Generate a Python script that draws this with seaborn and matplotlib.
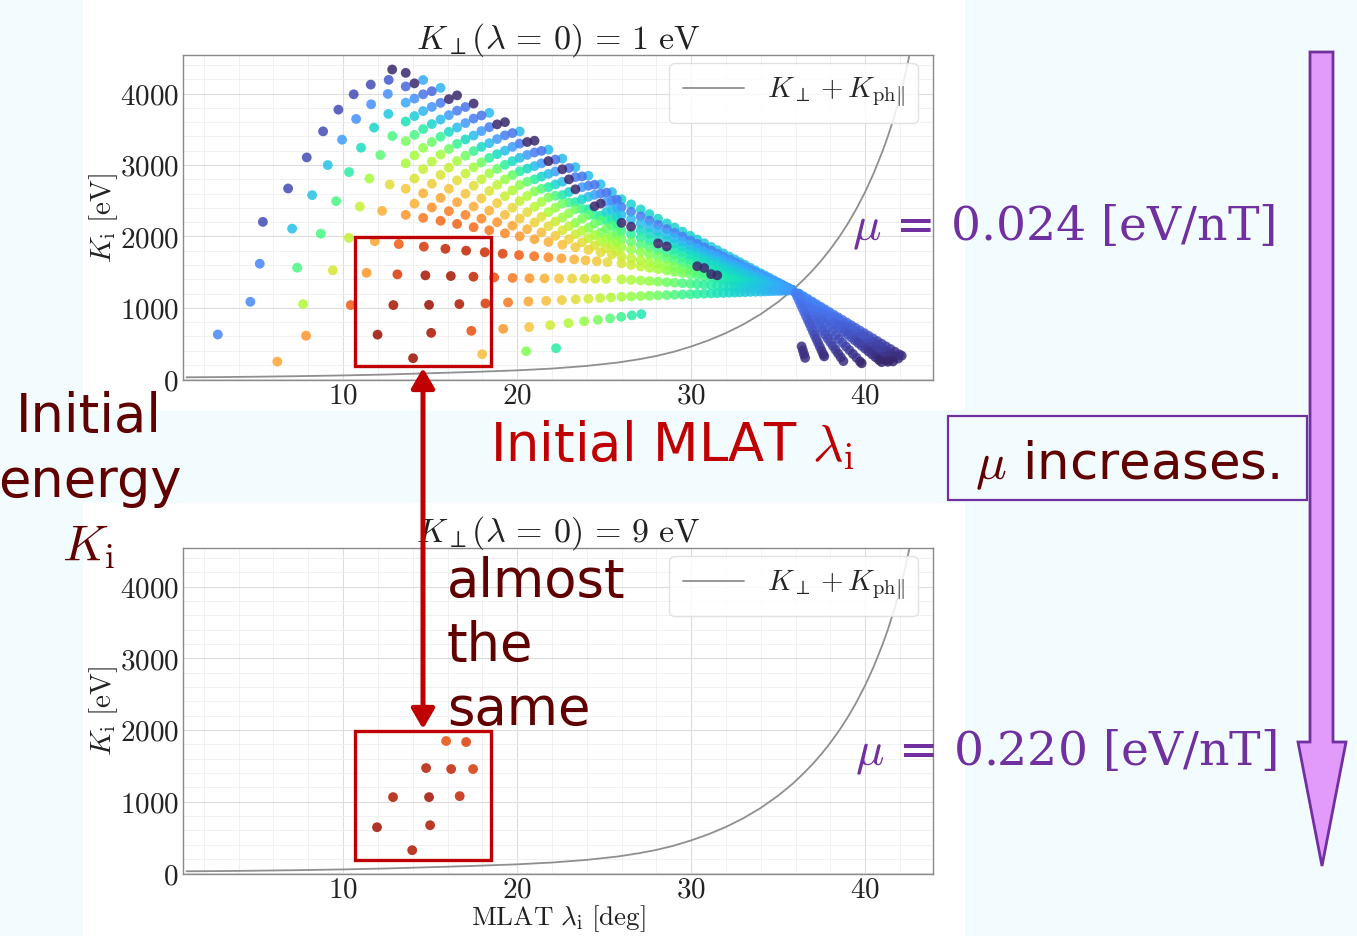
import matplotlib
matplotlib.use("Agg")
import matplotlib.pyplot as plt
import seaborn as sns
import pandas as pd
from matplotlib.patches import Rectangle, Polygon, FancyArrowPatch
from matplotlib.ticker import MultipleLocator, FuncFormatter

# ---------------------------------------------------------------------------
# Initial conditions (MLAT lambda_i [deg], energy K_i [eV], colour value)
# mu = 0.024 eV/nT run, organised row by row
# ---------------------------------------------------------------------------
mid_lam = [13.6, 14.6, 15.6, 16.55, 17.5, 18.4, 19.3, 20.15, 21.0, 21.8, 22.6, 23.35, 24.1, 24.8, 25.45]
mid_lam_b = [14.1, 15.1, 16.08, 17.03, 17.95, 18.85, 19.73, 20.58, 21.4, 22.2, 22.98, 23.73, 24.45, 25.13, 25.73]
fan_lam = [26.0, 26.55, 27.1, 27.6, 28.1, 28.6, 29.05, 29.5, 29.95, 30.35, 30.75, 31.15, 31.5, 31.85,
           32.2, 32.5, 32.8, 33.1, 33.4, 33.7, 34.0, 34.25, 34.5, 34.75, 35.0, 35.2, 35.4, 35.6, 35.8]

r0_lam = [6.22, 14.02, 17.99, 20.52, 22.24]
r0_k = [247, 295, 351, 393, 435]
r0_c = [0.70, 0.96, 0.66, 0.46, 0.36]

r1_lam = [2.80, 7.87, 11.98, 15.06, 17.37, 19.20, 20.69, 21.90, 22.95, 23.85, 24.64, 25.34, 25.98, 26.59, 27.14]
r1_k = [627, 610, 625, 650, 678, 706, 730, 758, 786, 812, 832, 852, 874, 895, 912]
r1_c = [0.17, 0.72, 0.96, 0.94, 0.82, 0.72, 0.65, 0.57, 0.52, 0.48, 0.45, 0.42, 0.39, 0.36, 0.34]

r2_lam = [4.67, 7.70, 10.44, 12.89, 14.94, 16.68, 18.18, 19.48, 20.65, 21.67, 22.57, 23.37, 24.10, 24.77, 25.40] + fan_lam
r2_k = [1085, 1053, 1039, 1039, 1042, 1053, 1062, 1076, 1089, 1099, 1109, 1119, 1128, 1137, 1146] + \
       [1155, 1160, 1165, 1170, 1174, 1179, 1183, 1187, 1191, 1195, 1198, 1202, 1205, 1208, 1212, 1214, 1217,
        1220, 1223, 1225, 1228, 1230, 1233, 1235, 1237, 1239, 1241, 1243, 1245]
r2_c = [0.17, 0.52, 0.80, 0.94, 0.96, 0.93, 0.86, 0.76, 0.70, 0.66, 0.63, 0.60, 0.57, 0.55, 0.52] + \
       [0.50, 0.48, 0.47, 0.45, 0.44, 0.42, 0.41, 0.39, 0.38, 0.37, 0.36, 0.34, 0.33, 0.32, 0.31, 0.30, 0.29,
        0.28, 0.27, 0.27, 0.26, 0.25, 0.24, 0.23, 0.23, 0.22, 0.21, 0.21, 0.20]

r3_lam = [5.21, 7.36, 9.41, 11.35, 13.12, 14.73, 16.19, 17.49, 18.68, 19.74, 20.71, 21.57, 22.41, 23.16,
          23.87, 24.50, 25.11] + fan_lam
r3_k = [1618, 1562, 1526, 1490, 1469, 1455, 1446, 1436, 1426, 1419, 1414, 1412, 1410, 1409, 1408, 1406, 1404] + \
       [1400, 1391, 1383, 1375, 1367, 1359, 1352, 1345, 1338, 1332, 1325, 1319, 1313, 1308, 1302, 1298, 1293,
        1288, 1284, 1279, 1274, 1270, 1266, 1262, 1258, 1255, 1252, 1249, 1246]
r3_c = [0.17, 0.40, 0.58, 0.72, 0.86, 0.94, 0.94, 0.90, 0.82, 0.76, 0.72, 0.68, 0.65, 0.62, 0.60, 0.58, 0.56] + \
       [0.53, 0.51, 0.49, 0.48, 0.46, 0.44, 0.43, 0.41, 0.40, 0.38, 0.37, 0.36, 0.35, 0.33, 0.32, 0.31, 0.30,
        0.29, 0.28, 0.27, 0.26, 0.25, 0.25, 0.24, 0.23, 0.22, 0.22, 0.21, 0.20]

r4_lam = [5.39, 7.07, 8.72, 10.33, 11.82, 13.2, 14.64, 15.88, 17.07, 18.14, 19.17, 20.11, 20.98, 21.80,
          22.55, 23.28, 23.93, 24.58, 25.19] + fan_lam
r4_k = [2204, 2109, 2039, 1980, 1933, 1893, 1857, 1827, 1801, 1779, 1758, 1739, 1723, 1708, 1693, 1678,
        1665, 1652, 1640] + \
       [1622, 1601, 1580, 1561, 1542, 1522, 1505, 1488, 1471, 1456, 1440, 1425, 1411, 1398, 1385, 1373, 1362,
        1350, 1339, 1327, 1316, 1306, 1297, 1287, 1278, 1270, 1262, 1255, 1247]
r4_c = [0.08, 0.26, 0.40, 0.55, 0.70, 0.80, 0.86, 0.90, 0.90, 0.88, 0.85, 0.80, 0.77, 0.74, 0.71, 0.68,
        0.66, 0.64, 0.61] + \
       [0.58, 0.56, 0.54, 0.52, 0.50, 0.48, 0.46, 0.45, 0.43, 0.41, 0.40, 0.38, 0.37, 0.35, 0.34, 0.33, 0.32,
        0.31, 0.29, 0.28, 0.27, 0.26, 0.25, 0.24, 0.23, 0.23, 0.22, 0.21, 0.20]

r5_lam = [6.84, 8.22, 9.60, 10.96, 12.24] + mid_lam + fan_lam
r5_k = [2671, 2578, 2494, 2418, 2358] + \
       [2302, 2260, 2219, 2175, 2129, 2086, 2043, 2002, 1961, 1922, 1884, 1848, 1812, 1778, 1747] + \
       [1720, 1693, 1667, 1643, 1619, 1595, 1573, 1551, 1530, 1510, 1491, 1472, 1455, 1438, 1421, 1407, 1392,
        1378, 1363, 1349, 1334, 1322, 1310, 1298, 1286, 1276, 1267, 1257, 1247]
r5_c = [0.08, 0.26, 0.40, 0.55, 0.68] + \
       [0.72, 0.76, 0.78, 0.79, 0.78, 0.76, 0.74, 0.72, 0.70, 0.68, 0.66, 0.64, 0.62, 0.60, 0.58] + \
       [0.56, 0.54, 0.52, 0.50, 0.48, 0.47, 0.45, 0.43, 0.42, 0.40, 0.39, 0.03, 0.03, 0.34, 0.33, 0.32, 0.31,
        0.30, 0.29, 0.28, 0.27, 0.26, 0.25, 0.24, 0.23, 0.22, 0.22, 0.21, 0.20]

r5b_k = [2459, 2406, 2354, 2301, 2249, 2199, 2150, 2102, 2056, 2009, 1962, 1917, 1873, 1834, 1801]
r5b_c = [0.68, 0.73, 0.75, 0.75, 0.74, 0.72, 0.70, 0.68, 0.66, 0.64, 0.62, 0.60, 0.58, 0.56, 0.54]

r6_lam = [7.91, 9.12, 10.34, 11.51, 12.68] + mid_lam + fan_lam
r6_k = [3106, 2999, 2901, 2811, 2727] + \
       [2668, 2604, 2540, 2479, 2419, 2361, 2303, 2249, 2195, 2144, 2085, 2030, 1975, 1925, 1885] + \
       [1850, 1816, 1782, 1752, 1721, 1690, 1663, 1635, 1607, 1583, 1558, 1534, 1512, 1491, 1469, 1451, 1432,
        1414, 1395, 1377, 1359, 1343, 1328, 1313, 1297, 1285, 1273, 1260, 1248]
r6_c = [0.08, 0.26, 0.36, 0.50, 0.60] + \
       [0.64, 0.68, 0.70, 0.70, 0.69, 0.68, 0.66, 0.64, 0.62, 0.60, 0.58, 0.56, 0.54, 0.52, 0.51] + \
       [0.50, 0.48, 0.47, 0.45, 0.44, 0.42, 0.41, 0.39, 0.38, 0.03, 0.03, 0.34, 0.33, 0.32, 0.31, 0.30, 0.29,
        0.28, 0.27, 0.27, 0.26, 0.25, 0.24, 0.23, 0.23, 0.22, 0.21, 0.21, 0.20]

r6b_k = [2810, 2737, 2667, 2598, 2532, 2467, 2403, 2339, 2274, 2209, 2143, 2079, 2019, 1968, 1927]
r6b_c = [0.58, 0.63, 0.65, 0.65, 0.64, 0.63, 0.61, 0.60, 0.58, 0.56, 0.54, 0.52, 0.50, 0.49, 0.48]

r7_lam = [8.85, 9.94, 11.03, 12.14] + mid_lam + fan_lam
r7_k = [3471, 3354, 3242, 3140] + \
       [3023, 2942, 2862, 2785, 2709, 2637, 2564, 2496, 2415, 2340, 2265, 2190, 2120, 2055, 2005] + \
       [1965, 1925, 1885, 1848, 1811, 1775, 1742, 1709, 1676, 1647, 1618, 1589, 1563, 1537, 1512, 1490, 1468,
        1446, 1424, 1402, 1380, 1362, 1344, 1325, 1307, 1293, 1278, 1263, 1249]
r7_c = [0.08, 0.20, 0.32, 0.42] + \
       [0.50, 0.55, 0.58, 0.60, 0.60, 0.58, 0.56, 0.55, 0.53, 0.51, 0.49, 0.47, 0.46, 0.45, 0.45] + \
       [0.44, 0.43, 0.41, 0.40, 0.39, 0.38, 0.37, 0.36, 0.34, 0.33, 0.32, 0.31, 0.31, 0.30, 0.29, 0.28, 0.27,
        0.27, 0.26, 0.25, 0.25, 0.24, 0.23, 0.23, 0.22, 0.22, 0.21, 0.21, 0.20]

r7b_k = [3135, 3048, 2963, 2880, 2800, 2721, 2645, 2566, 2483, 2403, 2324, 2248, 2176, 2109, 2050]
r7b_c = [0.50, 0.53, 0.55, 0.55, 0.55, 0.54, 0.52, 0.51, 0.50, 0.48, 0.47, 0.45, 0.44, 0.43, 0.42]

r8_lam = [9.73, 10.75, 11.78, 12.83] + mid_lam + fan_lam
r8_k = [3775, 3645, 3523, 3406] + \
       [3334, 3240, 3146, 3057, 2968, 2883, 2798, 2719, 2630, 2545, 2460, 2380, 2300, 2225, 2150] + \
       [2080, 2033, 1987, 1944, 1902, 1860, 1821, 1783, 1745, 1711, 1677, 1643, 1614, 1584, 1554, 1529, 1504,
        1478, 1453, 1427, 1402, 1381, 1359, 1338, 1317, 1300, 1283, 1266, 1249]
r8_c = [0.08, 0.18, 0.30, 0.40] + \
       [0.45, 0.48, 0.50, 0.50, 0.50, 0.49, 0.48, 0.47, 0.46, 0.45, 0.44, 0.43, 0.42, 0.41, 0.40] + \
       [0.39, 0.37, 0.36, 0.35, 0.03, 0.03, 0.33, 0.32, 0.31, 0.31, 0.30, 0.29, 0.29, 0.28, 0.27, 0.27, 0.26,
        0.26, 0.25, 0.25, 0.24, 0.24, 0.23, 0.23, 0.22, 0.22, 0.21, 0.21, 0.20]

r8b_k = [3422, 3322, 3224, 3130, 3037, 2946, 2859, 2766, 2667, 2569, 2475, 2385, 2299, 2228, 2167]
r8b_c = [0.40, 0.43, 0.44, 0.44, 0.44, 0.43, 0.43, 0.42, 0.41, 0.40, 0.39, 0.38, 0.37, 0.36, 0.35]

r9_lam = [10.61, 11.61, 12.6] + mid_lam + fan_lam
r9_k = [3990, 3850, 3715] + \
       [3609, 3503, 3396, 3296, 3195, 3099, 3003, 2913, 2800, 2690, 2580, 2480, 2380, 2290, 2245] + \
       [2190, 2137, 2084, 2037, 1989, 1941, 1897, 1854, 1811, 1773, 1734, 1696, 1662, 1629, 1595, 1566, 1538,
        1509, 1480, 1451, 1422, 1398, 1375, 1351, 1327, 1307, 1288, 1269, 1250]
r9_c = [0.08, 0.18, 0.27] + \
       [0.33, 0.36, 0.38, 0.38, 0.38, 0.37, 0.37, 0.36, 0.36, 0.35, 0.34, 0.34, 0.33, 0.32, 0.32] + \
       [0.03, 0.03, 0.30, 0.30, 0.29, 0.28, 0.28, 0.27, 0.27, 0.26, 0.26, 0.25, 0.25, 0.24, 0.24, 0.24, 0.23,
        0.23, 0.23, 0.22, 0.22, 0.22, 0.21, 0.21, 0.21, 0.21, 0.20, 0.20, 0.20]

r9b_k = [3685, 3573, 3464, 3358, 3254, 3152, 3054, 2950, 2838, 2728, 2622, 2519, 2422, 2343, 2278]
r9b_c = [0.28, 0.30, 0.31, 0.31, 0.31, 0.31, 0.31, 0.30, 0.30, 0.30, 0.29, 0.29, 0.03, 0.28, 0.28]

r10_lam = [11.59, 12.57] + mid_lam + fan_lam
r10_k = [4126, 3995] + \
        [3873, 3755, 3637, 3525, 3413, 3306, 3200, 3100, 2985, 2875, 2765, 2660, 2555, 2460, 2375] + \
        [2300, 2241, 2182, 2129, 2075, 2021, 1973, 1925, 1877, 1834, 1791, 1748, 1711, 1673, 1636, 1604, 1572,
         1540, 1507, 1475, 1443, 1416, 1390, 1363, 1336, 1315, 1293, 1272, 1250]
r10_c = [0.08, 0.18] + \
        [0.22, 0.24, 0.25, 0.25, 0.25, 0.25, 0.25, 0.25, 0.25, 0.25, 0.25, 0.03, 0.25, 0.03, 0.25] + \
        [0.25, 0.25, 0.25, 0.24, 0.24, 0.24, 0.24, 0.23, 0.23, 0.23, 0.23, 0.23, 0.22, 0.22, 0.22, 0.22, 0.22,
         0.21, 0.21, 0.21, 0.21, 0.21, 0.21, 0.20, 0.20, 0.20, 0.20, 0.20, 0.20]

r10b_k = [3930, 3813, 3698, 3587, 3475, 3363, 3254, 3141, 3023, 2909, 2799, 2689, 2582, 2484, 2397]
r10b_c = [0.18, 0.19, 0.20, 0.20, 0.20, 0.20, 0.20, 0.20, 0.20, 0.20, 0.03, 0.20, 0.20, 0.20, 0.20]

r11_lam = [12.62] + mid_lam + fan_lam
r11_k = [4192] + \
        [4100, 3990, 3870, 3760, 3650, 3530, 3415, 3300, 3175, 3055, 2940, 2830, 2710, 2600, 2500] + \
        [2410, 2345, 2280, 2221, 2162, 2102, 2049, 1996, 1943, 1896, 1848, 1801, 1759, 1718, 1677, 1641, 1606,
         1570, 1535, 1499, 1464, 1434, 1405, 1375, 1346, 1322, 1298, 1275, 1251]
r11_c = [0.10] + \
        [0.12, 0.14, 0.15, 0.15, 0.15, 0.15, 0.15, 0.15, 0.15, 0.03, 0.03, 0.15, 0.15, 0.15, 0.15] + \
        [0.15, 0.15, 0.15, 0.15, 0.15, 0.15, 0.16, 0.16, 0.16, 0.16, 0.16, 0.16, 0.17, 0.17, 0.17, 0.17, 0.17,
         0.18, 0.18, 0.18, 0.18, 0.18, 0.19, 0.19, 0.19, 0.19, 0.20, 0.20, 0.20]

r11b_k = [4143, 4033, 3922, 3812, 3693, 3569, 3447, 3322, 3197, 3076, 2958, 2840, 2723, 2613, 2513]
r11b_c = [0.03, 0.12, 0.03, 0.14, 0.14, 0.03, 0.14, 0.03, 0.14, 0.14, 0.14, 0.14, 0.14, 0.14, 0.14]

r12_lam = [12.82] + mid_lam + fan_lam
r12_k = [4337] + \
        [4290, 4190, 4080, 3975, 3860, 3730, 3600, 3470, 3340, 3215, 3090, 2970, 2850, 2730, 2620] + \
        [2520, 2449, 2378, 2313, 2248, 2183, 2125, 2067, 2009, 1957, 1905, 1853, 1808, 1763, 1718, 1679, 1640,
         1601, 1562, 1523, 1484, 1452, 1420, 1387, 1355, 1329, 1303, 1277, 1252]
r12_c = [0.03] + \
        [0.03, 0.22, 0.24, 0.03, 0.03, 0.25, 0.03, 0.25, 0.03, 0.25, 0.25, 0.25, 0.25, 0.25, 0.25] + \
        [0.30, 0.30, 0.30, 0.30, 0.30, 0.29, 0.29, 0.29, 0.29, 0.28, 0.28, 0.28, 0.27, 0.27, 0.27, 0.26, 0.26,
         0.26, 0.25, 0.25, 0.25, 0.24, 0.24, 0.24, 0.23, 0.23, 0.22, 0.22, 0.22]

# branches beyond the crossing point at high latitude
f1_lam = [36.35, 36.42, 36.49, 36.55]
f1_k = [460, 405, 350, 300]
f1_c = [0.04, 0.04, 0.04, 0.04]

f2_lam = [36.0, 36.1, 36.2, 36.3, 36.4, 36.5, 36.6, 36.7, 36.8, 36.9, 37.0, 37.1, 37.2, 37.3, 37.4, 37.5,
          37.6, 37.65]
f2_k = [1210, 1156, 1102, 1048, 994, 940, 887, 833, 779, 725, 671, 617, 563, 509, 455, 401, 347, 320]
f2_c = [0.16, 0.15, 0.15, 0.14, 0.13, 0.13, 0.12, 0.11, 0.10, 0.10, 0.09, 0.08, 0.07, 0.07, 0.06, 0.05,
        0.04, 0.04]

f3_lam = [36.05, 36.2, 36.35, 36.5, 36.65, 36.8, 36.95, 37.1, 37.25, 37.4, 37.55, 37.7, 37.85, 38.0, 38.15,
          38.3, 38.45, 38.6, 38.75]
f3_k = [1200, 1148, 1095, 1043, 990, 938, 885, 833, 780, 728, 675, 623, 570, 518, 465, 413, 360, 308, 255]
f3_c = [0.17, 0.16, 0.16, 0.15, 0.14, 0.14, 0.13, 0.12, 0.11, 0.11, 0.10, 0.09, 0.08, 0.08, 0.07, 0.06,
        0.05, 0.05, 0.04]

f4_lam = [36.1, 36.3, 36.5, 36.7, 36.9, 37.1, 37.3, 37.5, 37.7, 37.9, 38.1, 38.3, 38.5, 38.7, 38.9, 39.1,
          39.3, 39.5, 39.7, 39.8]
f4_k = [1190, 1138, 1086, 1033, 981, 929, 877, 825, 772, 720, 668, 616, 564, 511, 459, 407, 355, 303, 250, 224]
f4_c = [0.17, 0.16, 0.16, 0.15, 0.14, 0.14, 0.13, 0.12, 0.11, 0.11, 0.10, 0.09, 0.08, 0.08, 0.07, 0.06,
        0.05, 0.05, 0.04, 0.03]

f5_lam = [36.2, 36.4, 36.6, 36.8, 37.0, 37.2, 37.4, 37.6, 37.8, 38.0, 38.2, 38.4, 38.6, 38.8, 39.0, 39.2,
          39.4, 39.6, 39.8, 40.0, 40.2, 40.4, 40.6, 40.8, 40.95]
f5_k = [1180, 1140, 1101, 1061, 1022, 982, 942, 903, 863, 824, 784, 744, 705, 665, 626, 586, 546, 507, 467,
        428, 388, 348, 309, 269, 240]
f5_c = [0.18, 0.17, 0.17, 0.16, 0.16, 0.15, 0.14, 0.14, 0.13, 0.13, 0.12, 0.11, 0.11, 0.10, 0.09, 0.09,
        0.08, 0.07, 0.07, 0.06, 0.05, 0.05, 0.04, 0.03, 0.03]

f6_lam = [36.2, 36.45, 36.7, 36.95, 37.2, 37.45, 37.7, 37.95, 38.2, 38.45, 38.7, 38.95, 39.2, 39.45, 39.7,
          39.95, 40.2, 40.45, 40.7, 40.95, 41.2, 41.45, 41.7, 41.95, 42.1]
f6_k = [1200, 1163, 1126, 1089, 1052, 1015, 978, 941, 904, 867, 830, 794, 757, 720, 683, 646, 609, 572, 535,
        498, 461, 424, 387, 350, 330]
f6_c = [0.20, 0.19, 0.19, 0.18, 0.17, 0.17, 0.16, 0.15, 0.15, 0.14, 0.13, 0.13, 0.12, 0.11, 0.11, 0.10,
        0.09, 0.09, 0.08, 0.07, 0.07, 0.06, 0.05, 0.05, 0.04]

f7_lam = [36.2, 36.45, 36.7, 36.95, 37.2, 37.45, 37.7, 37.95, 38.2, 38.45, 38.7, 38.95, 39.2, 39.45, 39.7,
          39.95, 40.2, 40.45, 40.7, 40.95, 41.2, 41.45, 41.6]
f7_k = [1190, 1147, 1103, 1060, 1016, 973, 929, 886, 842, 799, 755, 712, 668, 625, 581, 538, 494, 451, 407,
        364, 320, 277, 250]
f7_c = [0.19, 0.18, 0.18, 0.17, 0.16, 0.16, 0.15, 0.14, 0.14, 0.13, 0.12, 0.11, 0.11, 0.10, 0.09, 0.09,
        0.08, 0.07, 0.06, 0.06, 0.05, 0.04, 0.03]

f8_lam = [36.2, 36.45, 36.7, 36.95, 37.2, 37.45, 37.7, 37.95, 38.2, 38.45, 38.7, 38.95, 39.2, 39.45, 39.7,
          39.95, 40.2, 40.45, 40.7, 40.95, 41.2, 41.45, 41.7, 41.9]
f8_k = [1195, 1155, 1116, 1076, 1036, 996, 957, 917, 877, 838, 798, 758, 719, 679, 639, 600, 560, 520, 480,
        441, 401, 361, 322, 290]
f8_c = [0.19, 0.19, 0.18, 0.17, 0.17, 0.16, 0.15, 0.15, 0.14, 0.13, 0.13, 0.12, 0.11, 0.11, 0.10, 0.09,
        0.09, 0.08, 0.07, 0.07, 0.06, 0.05, 0.04, 0.04]

f9_lam = [36.2, 36.45, 36.7, 36.95, 37.2, 37.45, 37.7, 37.95, 38.2, 38.45, 38.7, 38.95, 39.2, 39.45, 39.7,
          39.95, 40.2, 40.45, 40.7, 40.95, 41.2, 41.3]
f9_k = [1185, 1139, 1093, 1047, 1001, 955, 909, 863, 817, 771, 725, 679, 633, 587, 541, 495, 449, 403, 357,
        311, 265, 245]
f9_c = [0.18, 0.18, 0.17, 0.16, 0.16, 0.15, 0.14, 0.14, 0.13, 0.12, 0.11, 0.11, 0.10, 0.09, 0.09, 0.08,
        0.07, 0.06, 0.06, 0.05, 0.04, 0.03]

# mu = 0.220 eV/nT run
low_lam = [13.97, 11.95, 15.00, 12.87, 14.94, 16.70, 14.77, 16.21, 17.47, 15.92, 17.07]
low_k = [322, 643, 671, 1063, 1063, 1077, 1469, 1455, 1455, 1846, 1832]
low_c = [0.93, 0.95, 0.93, 0.93, 0.95, 0.90, 0.92, 0.90, 0.86, 0.82, 0.85]

# K_perp + K_ph|| along the field line
curve_lam = [1.0, 3.0, 5.0, 7.5, 10.0, 12.5, 15.0, 17.5, 20.0, 22.0, 24.0, 25.8, 27.0, 28.0, 29.0, 30.0,
             31.0, 32.0, 33.0, 34.0, 35.0, 35.85, 36.5, 37.0, 37.5, 38.0, 38.5, 39.0, 39.5, 40.0, 40.5, 41.0,
             41.3, 41.6, 41.8, 42.0, 42.15, 42.3, 42.45, 42.6, 42.9]
curve_k = [28, 31, 36, 44, 54, 67, 85, 103, 125, 150, 187, 235, 280, 326, 385, 459, 545, 647, 768, 912, 1083,
           1253, 1403, 1529, 1668, 1821, 1990, 2177, 2387, 2622, 2889, 3193, 3397, 3622, 3785, 3963, 4108,
           4263, 4428, 4604, 4988]

# ---------------------------------------------------------------------------
top_groups = [
    (r12_lam, r12_k, r12_c), (mid_lam_b, r11b_k, r11b_c), (r11_lam, r11_k, r11_c),
    (mid_lam_b, r10b_k, r10b_c), (r10_lam, r10_k, r10_c), (mid_lam_b, r9b_k, r9b_c),
    (r9_lam, r9_k, r9_c), (mid_lam_b, r8b_k, r8b_c), (r8_lam, r8_k, r8_c), (mid_lam_b, r7b_k, r7b_c),
    (r7_lam, r7_k, r7_c), (mid_lam_b, r6b_k, r6b_c), (r6_lam, r6_k, r6_c), (mid_lam_b, r5b_k, r5b_c),
    (r5_lam, r5_k, r5_c), (r4_lam, r4_k, r4_c), (r3_lam, r3_k, r3_c), (r2_lam, r2_k, r2_c),
    (r1_lam, r1_k, r1_c), (r0_lam, r0_k, r0_c),
    (f6_lam, f6_k, f6_c), (f8_lam, f8_k, f8_c), (f7_lam, f7_k, f7_c), (f9_lam, f9_k, f9_c),
    (f5_lam, f5_k, f5_c), (f4_lam, f4_k, f4_c), (f3_lam, f3_k, f3_c), (f2_lam, f2_k, f2_c),
    (f1_lam, f1_k, f1_c),
]
top = pd.concat([pd.DataFrame({"lam": a, "K": b, "c": c}) for a, b, c in top_groups], ignore_index=True)
# the darkest markers sit on top of the crowded bands
top = pd.concat([top[top["c"] > 0.05], top[top["c"] <= 0.05]], ignore_index=True)
low = pd.DataFrame({"lam": low_lam, "K": low_k, "c": low_c})
curve = pd.DataFrame({"lam": curve_lam, "K": curve_k})

sns.set_theme(style="whitegrid")
plt.rcParams["mathtext.fontset"] = "cm"
plt.rcParams["font.family"] = ["DejaVu Serif"]

SLIDE_BG = "#F2FCFF"
RED = "#C00000"
MAROON = "#600000"
PURPLE = "#7030A0"
VIOLET = "#E29AFB"

W, H = 1357, 936
fig = plt.figure(figsize=(W / 100, H / 100), dpi=100)
fig.patch.set_facecolor(SLIDE_BG)


def fx(px):
    return px / W


def fy(py):
    return 1 - py / H


# white backdrops behind the two figures
for x0, y0, x1, y1 in [(83, 0, 965, 410), (83, 503, 965, 936)]:
    fig.add_artist(Rectangle((fx(x0), fy(y1)), fx(x1) - fx(x0), fy(y0) - fy(y1),
                             transform=fig.transFigure, fc="white", ec="none", zorder=-5))

ax1 = fig.add_axes([fx(183), fy(380), fx(933) - fx(183), fy(55) - fy(380)])
ax2 = fig.add_axes([fx(183), fy(874), fx(933) - fx(183), fy(548) - fy(874)])

math_fmt = FuncFormatter(lambda v, p: f"${v:.0f}$")
legend_label = r"$K_\perp + K_{\mathrm{ph}\|}$"

for ax, pts, title in [(ax1, top, r"$K_\perp(\lambda\,=\,0)\,=\,1\ \mathrm{eV}$"),
                       (ax2, low, r"$K_\perp(\lambda\,=\,0)\,=\,9\ \mathrm{eV}$")]:
    sns.lineplot(data=curve, x="lam", y="K", color="#8f8f8f", lw=1.3, label=legend_label, ax=ax, zorder=2)
    sns.scatterplot(data=pts, x="lam", y="K", hue="c", palette="turbo", hue_norm=(0, 1), s=50,
                    alpha=0.85, linewidth=0, legend=False, ax=ax, zorder=3)
    ax.set_xlim(0.8, 43.9)
    ax.set_ylim(-10, 4540)
    ax.xaxis.set_major_locator(MultipleLocator(10))
    ax.xaxis.set_minor_locator(MultipleLocator(2))
    ax.yaxis.set_major_locator(MultipleLocator(1000))
    ax.yaxis.set_minor_locator(MultipleLocator(200))
    ax.xaxis.set_major_formatter(math_fmt)
    ax.yaxis.set_major_formatter(math_fmt)
    ax.grid(which="major", color="#dddddd", lw=0.8)
    ax.grid(which="minor", color="#efefef", lw=0.6)
    ax.set_axisbelow(True)
    ax.tick_params(which="both", length=0, labelsize=21, labelcolor="#222222")
    ax.tick_params(axis="y", pad=3)
    ax.tick_params(axis="x", pad=1)
    for s in ax.spines.values():
        s.set_color("#8a8a8a")
        s.set_linewidth(1.0)
    ax.set_facecolor("white")
    ax.set_title(title, fontsize=24.5, pad=5, color="#222222")
    ax.set_ylabel(r"$K_\mathrm{i}\ [\mathrm{eV}]$", fontsize=21, labelpad=0, color="#222222")
    ax.set_xlabel("")
    ax.legend(loc="upper right", bbox_to_anchor=(0.98, 0.975), borderaxespad=0, fontsize=21,
              handlelength=2.1, frameon=True, fancybox=True, framealpha=0.85, edgecolor="#dddddd",
              facecolor="white", borderpad=0.45)

ax2.set_xlabel(r"$\mathrm{MLAT}\ \lambda_\mathrm{i}\ [\mathrm{deg}]$", fontsize=19.5, color="#222222")
ax2.xaxis.label.set_va("center")
ax2.xaxis.set_label_coords(0.5, (874 - 919) / 326)

# slide annotations ----------------------------------------------------------
for y0, y1 in [(237, 366), (731, 860)]:
    fig.add_artist(Rectangle((fx(355), fy(y1)), fx(491) - fx(355), fy(y0) - fy(y1),
                             transform=fig.transFigure, fill=False, ec=RED, lw=2.4, zorder=10))

fig.add_artist(FancyArrowPatch((fx(423), fy(368)), (fx(423), fy(729)), transform=fig.transFigure,
                               arrowstyle="<|-|>,head_length=0.6,head_width=0.35", mutation_scale=20,
                               lw=3.6, color=RED, shrinkA=0, shrinkB=0, zorder=11))

big_arrow = [(1310, 52), (1333, 52), (1333, 742), (1346, 742), (1322, 866), (1298, 742), (1310, 742)]
fig.add_artist(Polygon([(fx(x), fy(y)) for x, y in big_arrow], closed=True, transform=fig.transFigure,
                       fc=VIOLET, ec=PURPLE, lw=2, zorder=10))

fig.add_artist(Rectangle((fx(948), fy(500)), fx(1307) - fx(948), fy(416) - fy(500),
                         transform=fig.transFigure, fill=False, ec=PURPLE, lw=1.6, zorder=10))

sans = dict(family="DejaVu Sans", zorder=12)
fig.text(fx(490), fy(461), r"Initial MLAT $\lambda_\mathrm{i}$", fontsize=38, color=RED, va="baseline", **sans)
fig.text(fx(89), fy(432), "Initial", fontsize=38, color=MAROON, ha="center", va="baseline", **sans)
fig.text(fx(90), fy(497), "energy", fontsize=38, color=MAROON, ha="center", va="baseline", **sans)
fig.text(fx(89), fy(560), r"$K_\mathrm{i}$", fontsize=36, color=MAROON, ha="center", va="baseline", **sans)
for word, base in [("almost", 597), ("the", 661), ("same", 725)]:
    fig.text(fx(447), fy(base), word, fontsize=38, color=MAROON, va="baseline", **sans)
fig.text(fx(975), fy(479), r"$\mu$ increases.", fontsize=37, color=MAROON, va="baseline", **sans)

serif = dict(family="DejaVu Serif", zorder=12)
fig.text(fx(852), fy(240), r"$\mu$ = 0.024 [eV/nT]", fontsize=34, color=PURPLE, va="baseline", **serif)
fig.text(fx(855), fy(765), r"$\mu$ = 0.220 [eV/nT]", fontsize=34, color=PURPLE, va="baseline", **serif)

fig.savefig("out.png", dpi=100, facecolor=fig.get_facecolor())
